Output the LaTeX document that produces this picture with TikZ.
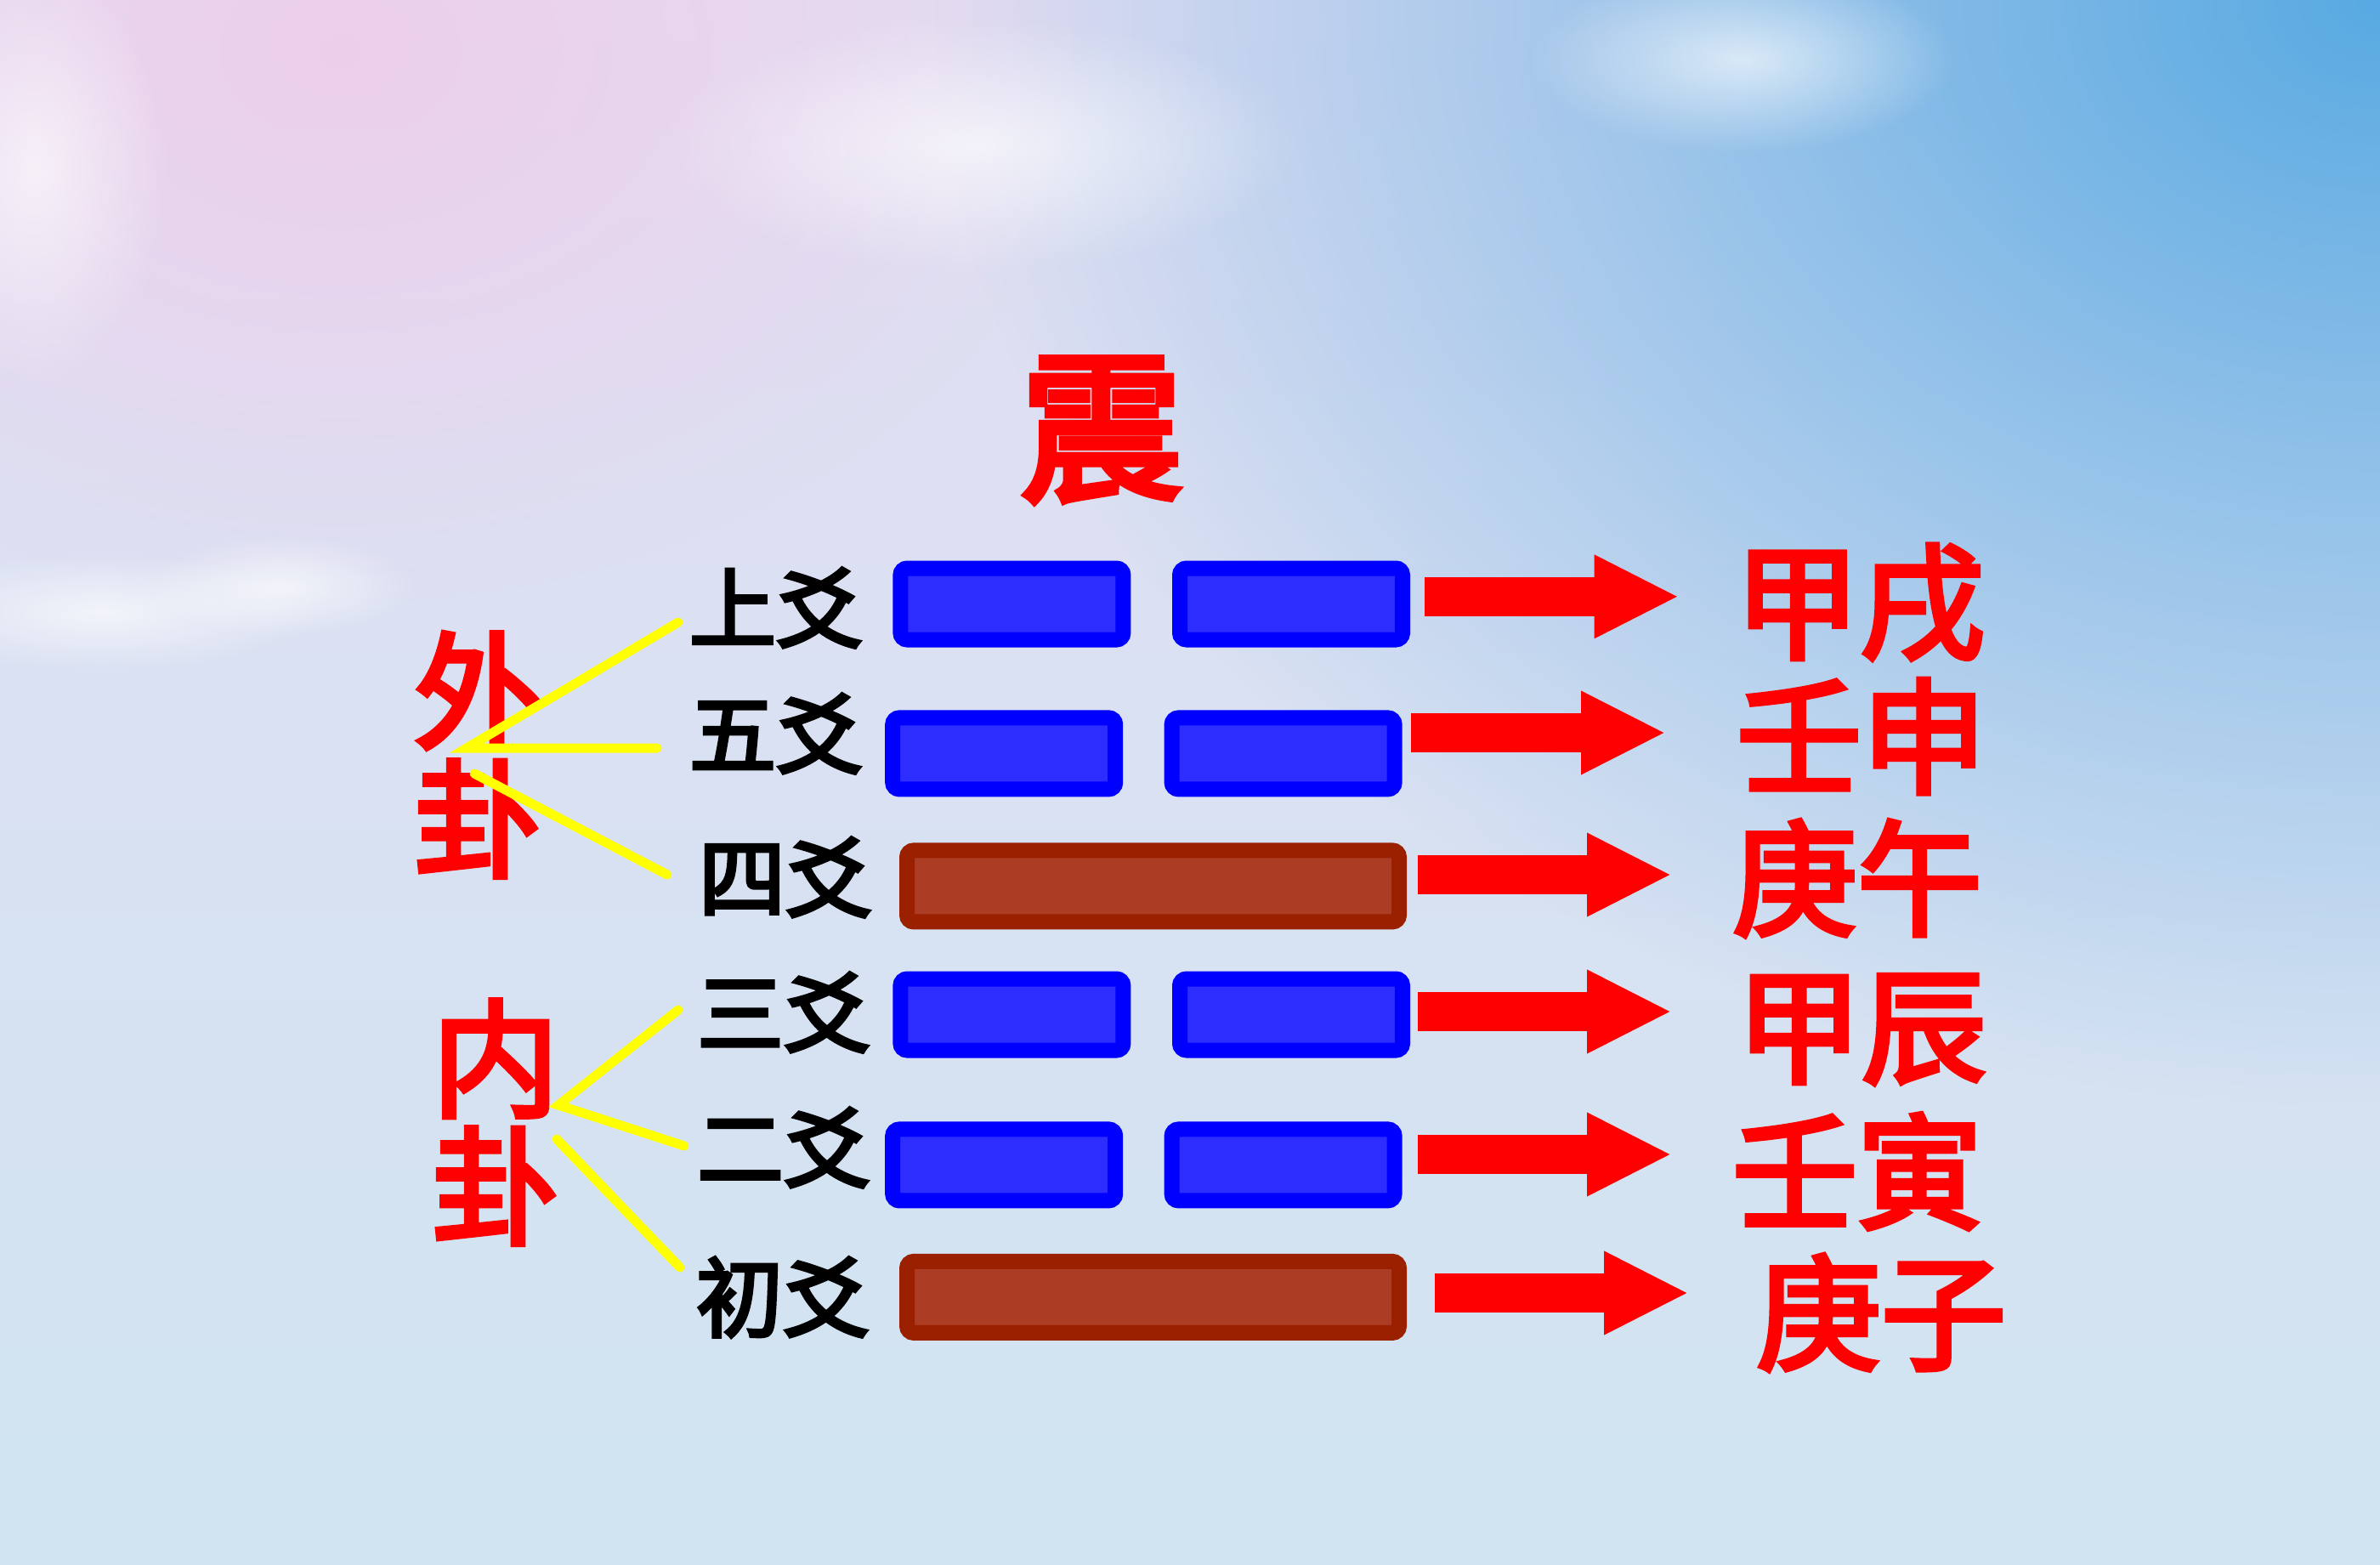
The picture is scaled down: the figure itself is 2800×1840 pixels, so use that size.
\documentclass[tikz,border=0pt]{standalone}
\usepackage{fontspec}
\newfontfamily\cjk[FakeBold=4]{Noto Sans CJK SC}
\usetikzlibrary{arrows.meta,fadings}
\definecolor{yaoblue}{RGB}{0,0,255}
\definecolor{yaoblueIn}{RGB}{45,45,255}
\definecolor{yaobrown}{RGB}{155,32,0}
\definecolor{yaobrownIn}{RGB}{172,60,36}
\definecolor{bgTop}{RGB}{226,222,242}
\definecolor{bgBot}{RGB}{208,228,242}
\definecolor{skyblue}{RGB}{88,170,226}
\definecolor{skypink}{RGB}{242,200,232}
\definecolor{linkyellow}{RGB}{255,255,0}
\tikzfading[name=softfade, inner color=transparent!0, outer color=transparent!100]
\tikzfading[name=pinkfade, inner color=transparent!30, outer color=transparent!100]
\tikzfading[name=cloudfade, inner color=transparent!35, outer color=transparent!100]
\begin{document}
\begin{tikzpicture}[x=1pt,y=-1pt,
  barbox/.style={rectangle, rounded corners=8pt, line width=18pt, inner sep=0pt, minimum height=84pt},
  blueyao/.style={barbox, draw=yaoblue, fill=yaoblueIn, minimum width=262pt},
  brownyao/.style={barbox, draw=yaobrown, fill=yaobrownIn, minimum width=579pt},
  yaolabel/.style={font=\cjk\fontsize{102}{102}\selectfont, text=black, inner sep=0pt},
  najia/.style={font=\cjk\fontsize{147}{147}\selectfont, text=red, inner sep=0pt},
  guaname/.style={font=\cjk\fontsize{150}{150}\selectfont, text=red, align=center, inner sep=0pt},
  titletext/.style={font=\cjk\fontsize{192}{192}\selectfont, text=red, inner sep=0pt},
  redarrow/.style={draw=red, line width=45.5pt, -{Triangle[length=100pt,width=91pt]}},
  yellowlink/.style={draw=linkyellow, line width=11pt, line cap=round}]
% background
\shade[top color=bgTop, bottom color=bgBot] (0,0) rectangle (2800,1840);
\useasboundingbox (0,0) rectangle (2800,1840);
\begin{scope}
\clip (0,0) rectangle (2800,1840);
\fill[skyblue, path fading=softfade] (2800,0) ellipse (1700 and 1300);
\fill[skypink, path fading=pinkfade] (400,60) ellipse (900 and 650);
\fill[white, path fading=cloudfade] (120,720) ellipse (260 and 70);
\fill[white, path fading=cloudfade] (330,690) ellipse (160 and 60);
\fill[white, path fading=cloudfade] (1150,170) ellipse (380 and 150);
\fill[white, path fading=cloudfade] (2050,70) ellipse (250 and 110);
\fill[white, path fading=cloudfade] (40,200) ellipse (160 and 260);
\end{scope}
% title
\node[titletext] (title) at (1296,506) {震};
% line labels
\node[yaolabel] (lab6) at (913,715) {上爻};
\node[yaolabel] (lab5) at (913,863) {五爻};
\node[yaolabel] (lab4) at (924,1032) {四爻};
\node[yaolabel] (lab3) at (922,1191) {三爻};
\node[yaolabel] (lab2) at (922,1350) {二爻};
\node[yaolabel] (lab1) at (921,1526) {初爻};
% bars
\node[blueyao] (y6L) at (1190.4,710.5) {};
\node[blueyao] (y6R) at (1519,710.5) {};
\node[blueyao] (y5L) at (1181.2,886.4) {};
\node[blueyao] (y5R) at (1509.6,886.4) {};
\node[brownyao] (y4) at (1356.5,1042.4) {};
\node[blueyao] (y3L) at (1190.4,1193.5) {};
\node[blueyao] (y3R) at (1519,1193.5) {};
\node[blueyao] (y2L) at (1181.2,1370.4) {};
\node[blueyao] (y2R) at (1509.6,1370.4) {};
\node[brownyao] (y1) at (1356.5,1525.9) {};
% na jia texts
\node[najia] (nj6) at (2188,709) {甲戌};
\node[najia] (nj5) at (2190,866) {壬申};
\node[najia] (nj4) at (2185,1033) {庚午};
\node[najia] (nj3) at (2190,1211) {甲辰};
\node[najia] (nj2) at (2185,1378) {壬寅};
\node[najia] (nj1) at (2213,1544) {庚子};
% arrows
\coordinate (a6s) at (1675.5,701.8); \coordinate (a6e) at (1975.5,701.8);
\coordinate (a5s) at (1660,862); \coordinate (a5e) at (1960,862);
\coordinate (a4s) at (1668,1029); \coordinate (a4e) at (1967,1029);
\coordinate (a3s) at (1668,1190); \coordinate (a3e) at (1967,1190);
\coordinate (a2s) at (1668,1358); \coordinate (a2e) at (1967,1358);
\coordinate (a1s) at (1688,1521); \coordinate (a1e) at (1987,1521);
\draw[redarrow] (a6s) -- (a6e);
\draw[redarrow] (a5s) -- (a5e);
\draw[redarrow] (a4s) -- (a4e);
\draw[redarrow] (a3s) -- (a3e);
\draw[redarrow] (a2s) -- (a2e);
\draw[redarrow] (a1s) -- (a1e);
% trigram names
\node[guaname] (outer) at (562,888) {外\\卦};
\node[guaname] (inner) at (583,1320) {内\\卦};
% yellow links
\coordinate (oApex) at (549,880);
\coordinate (o6) at (798,732);
\coordinate (o5) at (773,880);
\coordinate (o4s) at (558,910);
\coordinate (o4) at (785,1029);
\coordinate (iApex) at (657,1300);
\coordinate (i3) at (798,1188);
\coordinate (i2) at (805,1348);
\coordinate (i1s) at (655,1340);
\coordinate (i1) at (800,1491);
\draw[yellowlink] (o6) -- (oApex) -- (o5);
\draw[yellowlink] (o4s) -- (o4);
\draw[yellowlink] (i3) -- (iApex) -- (i2);
\draw[yellowlink] (i1s) -- (i1);
\end{tikzpicture}
\end{document}
